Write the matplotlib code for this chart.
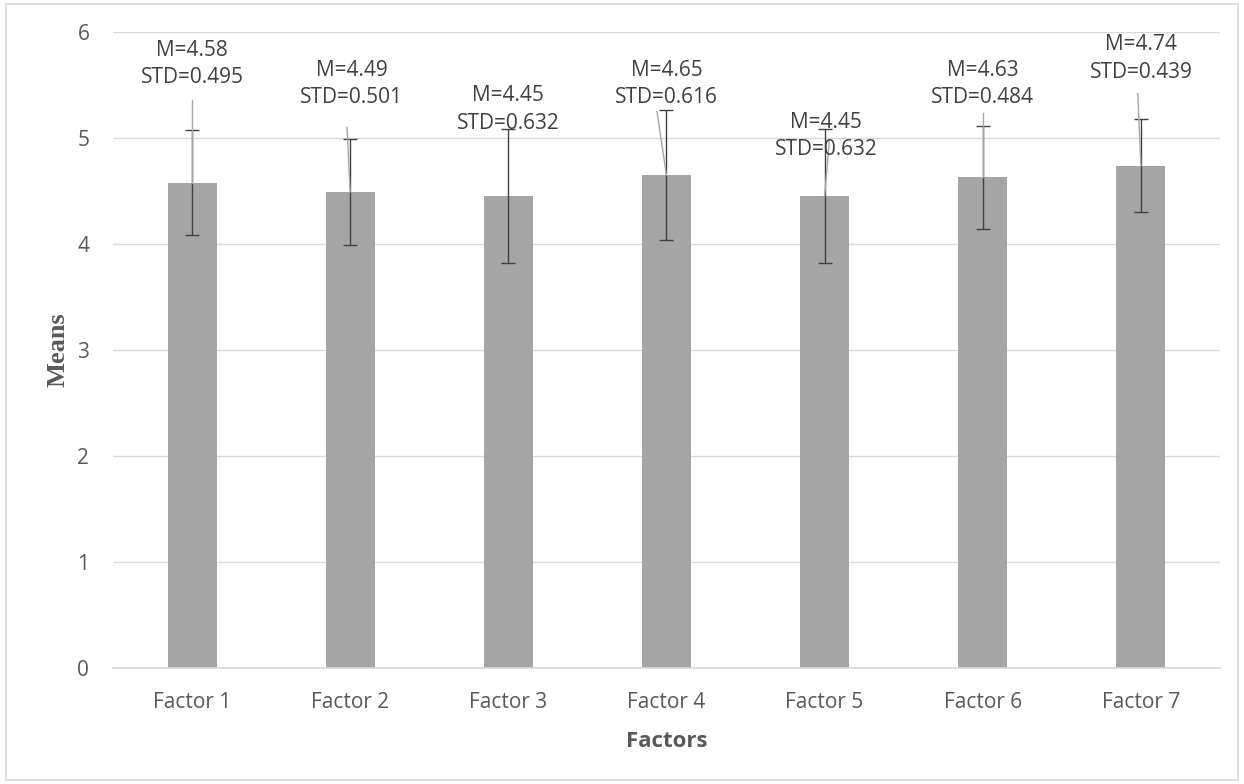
import matplotlib
matplotlib.use("Agg")
import matplotlib.pyplot as plt
from matplotlib.patches import Rectangle

categories = ["Factor 1", "Factor 2", "Factor 3", "Factor 4", "Factor 5", "Factor 6", "Factor 7"]
means = [4.58, 4.49, 4.45, 4.65, 4.45, 4.63, 4.74]
stds = [0.495, 0.501, 0.632, 0.616, 0.632, 0.484, 0.439]

# label placement (layout): x offset (category units), y center (data units)
label_dx = [0.0, 0.01, 0.0, 0.0, 0.01, 0.0, 0.0]
label_y = [5.70, 5.51, 5.27, 5.51, 5.02, 5.51, 5.75]
# leader start points (layout)
leader_start = [(0.0, 5.36), (-0.02, 5.10), None, (-0.06, 5.25), (0.03, 4.98), (0.0, 5.24), (-0.02, 5.42)]

plt.rcParams['font.family'] = ['Open Sans', 'DejaVu Sans']
text_color = '#595959'

fig = plt.figure(figsize=(12.44, 7.84), dpi=100)
ax = fig.add_axes([0.0908, 0.148, 0.8899, 0.811])

x = list(range(len(categories)))
ax.bar(x, means, width=0.31, color='#A5A5A5', zorder=2)
ax.errorbar(x, means, yerr=stds, fmt='none', ecolor='#404040', elinewidth=1.0,
            capsize=5, capthick=1.0, zorder=3)

for i in x:
    ax.text(i + label_dx[i], label_y[i], f"M={means[i]:.2f}\nSTD={stds[i]:.3f}",
            ha='center', va='center', fontsize=15, color='#404040', linespacing=1.4, zorder=4)
    if leader_start[i] is not None:
        sx, sy = leader_start[i]
        ax.plot([i + sx, i], [sy, means[i]], color='#A6A6A6', lw=1.0, zorder=3.5)

ax.set_xlim(-0.5, len(categories) - 0.5)
ax.set_ylim(0, 6)
ax.set_yticks(range(0, 7))
ax.set_xticks(x)
ax.set_xticklabels(categories)
ax.tick_params(axis='both', length=0, labelsize=15, colors=text_color, pad=17)
ax.tick_params(axis='y', pad=17)
ax.grid(axis='y', color='#D9D9D9', lw=1.0, zorder=0)
for s in ['top', 'right', 'left']:
    ax.spines[s].set_visible(False)
ax.spines['bottom'].set_color('#D9D9D9')
ax.spines['bottom'].set_linewidth(1.2)

ax.set_xlabel("Factors", fontsize=16, fontweight='bold', color=text_color, labelpad=13)
ax.set_ylabel("Means", fontsize=19, fontweight='bold', color=text_color,
              family='Liberation Serif', labelpad=6)

fig.patches.append(Rectangle((6/1244, 0.005), 1 - 12/1244, 0.99, transform=fig.transFigure,
                             fill=False, edgecolor='#D9D9D9', lw=1.2))

fig.savefig("out.png", dpi=100)
